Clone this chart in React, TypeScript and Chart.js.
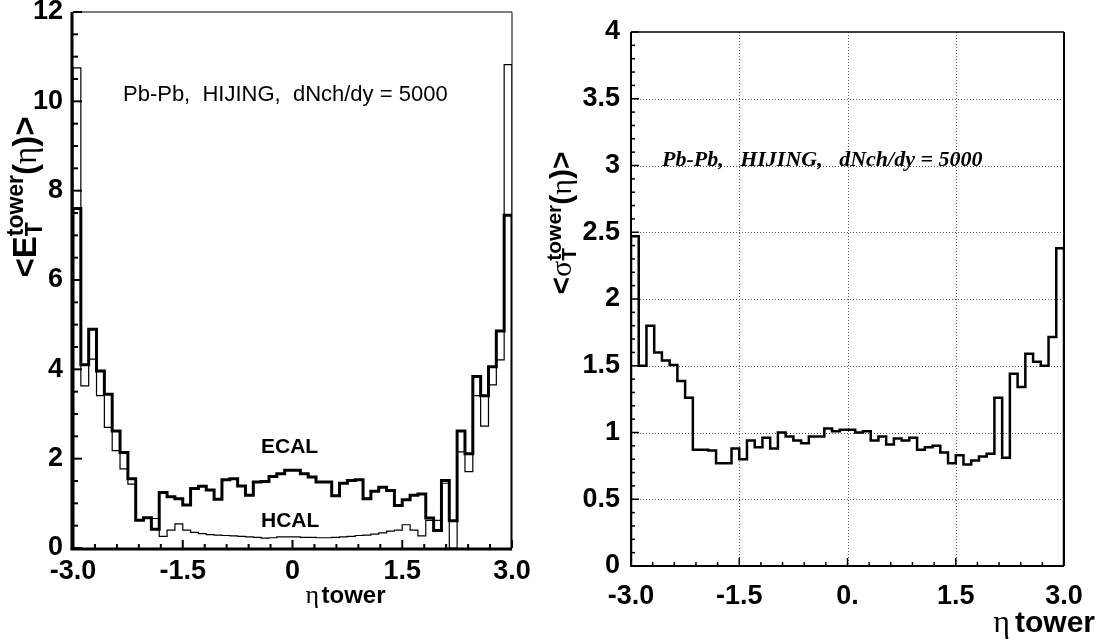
import { useEffect, useRef } from "react";
import { Chart, registerables } from "chart.js";

Chart.register(...registerables);

// ---------- data ----------
const ETA_MIN = -3;
const ETA_MAX = 3;

// <E_T> per eta tower (56 bins from -3 to 3)
const ECAL = [
  7.6, 4.1, 4.9, 3.96, 3.44, 2.62, 2.14, 1.55, 0.62, 0.68,
  0.42, 1.24, 1.15, 1.1, 0.96, 1.33, 1.38, 1.3, 1.09, 1.53,
  1.55, 1.39, 1.18, 1.48, 1.49, 1.6, 1.66, 1.74, 1.74, 1.66,
  1.59, 1.48, 1.48, 1.17, 1.45, 1.51, 1.53, 1.1, 1.27, 1.36,
  1.29, 0.95, 1.08, 1.18, 1.21, 0.67, 0.39, 1.51, 0.61, 2.62,
  2.11, 3.84, 3.41, 4.06, 4.86, 7.45,
];
const HCAL = [
  10.75, 3.63, 4.23, 3.41, 2.7, 2.18, 1.77, 1.43, 0.62, 0.66,
  0.66, 0.26, 0.4, 0.54, 0.4, 0.35, 0.32, 0.3, 0.29, 0.28,
  0.27, 0.26, 0.25, 0.24, 0.22, 0.23, 0.25, 0.25, 0.25, 0.24,
  0.24, 0.23, 0.23, 0.24, 0.25, 0.26, 0.28, 0.29, 0.31, 0.34,
  0.38, 0.4, 0.52, 0.4, 0.27, 0.62, 0.62, 1.45, 0, 2.15,
  1.71, 3.41, 2.73, 3.65, 4.21, 10.82,
];
// <sigma_T> per eta tower
const SIGMA = [
  2.47, 1.5, 1.8, 1.6, 1.54, 1.505, 1.385, 1.26, 0.87, 0.87,
  0.865, 0.77, 0.77, 0.88, 0.8, 0.94, 0.89, 0.96, 0.88, 1.0,
  0.97, 0.94, 0.92, 0.97, 0.97, 1.03, 1.01, 1.02, 1.02, 1.0,
  1.01, 0.94, 0.97, 0.91, 0.955, 0.94, 0.96, 0.87, 0.89, 0.9,
  0.85, 0.77, 0.83, 0.76, 0.79, 0.82, 0.84, 1.26, 0.81, 1.44,
  1.34, 1.59, 1.53, 1.5, 1.715, 2.38,
];

const X_TICKS = [-3, -1.5, 0, 1.5, 3];
const X_LABELS_LEFT = ["-3.0", "-1.5", "0", "1.5", "3.0"];
const X_LABELS_RIGHT = ["-3.0", "-1.5", "0.", "1.5", "3.0"];
const Y_TICKS_LEFT = [0, 2, 4, 6, 8, 10, 12];
const Y_LABELS_LEFT = ["0", "2", "4", "6", "8", "10", "12"];
const Y_TICKS_RIGHT = [0, 0.5, 1, 1.5, 2, 2.5, 3, 3.5, 4];
const Y_LABELS_RIGHT = ["0", "0.5", "1", "1.5", "2", "2.5", "3", "3.5", "4"];

const ANNOT_TEXT = "Pb-Pb,  HIJING,  dNch/dy = 5000";
const ANNOT_TEXT_RIGHT = "Pb-Pb,   HIJING,   dNch/dy = 5000";

// ---------- helpers ----------
const SANS = "'Liberation Sans', Arial, Helvetica, sans-serif";
const SERIF = "'Liberation Serif', 'Times New Roman', serif";

function histPoints(values: number[]) {
  const w = (ETA_MAX - ETA_MIN) / values.length;
  const pts: { x: number; y: number }[] = [{ x: ETA_MIN, y: 0 }];
  values.forEach((v, i) => pts.push({ x: ETA_MIN + i * w, y: v }));
  pts.push({ x: ETA_MAX, y: values[values.length - 1] });
  pts.push({ x: ETA_MAX, y: 0 });
  return pts;
}

type Part = { t: string; f: string; s: number } | { stack: { t: string; f: string; s: number }[] };

function drawRotated(ctx: CanvasRenderingContext2D, x: number, yc: number, parts: Part[]) {
  ctx.save();
  ctx.fillStyle = "#000";
  ctx.textBaseline = "alphabetic";
  ctx.textAlign = "left";
  const widths = parts.map((p) => {
    if ("stack" in p) {
      return Math.max(
        ...p.stack.map((q) => {
          ctx.font = q.f;
          return ctx.measureText(q.t).width;
        })
      );
    }
    ctx.font = p.f;
    return ctx.measureText(p.t).width;
  });
  const total = widths.reduce((a, b) => a + b, 0);
  ctx.translate(x, yc);
  ctx.rotate(-Math.PI / 2);
  let pos = -total / 2;
  parts.forEach((p, i) => {
    if ("stack" in p) {
      p.stack.forEach((q) => {
        ctx.font = q.f;
        ctx.fillText(q.t, pos, q.s);
      });
    } else {
      ctx.font = p.f;
      ctx.fillText(p.t, pos, p.s);
    }
    pos += widths[i];
  });
  ctx.restore();
}

function line(ctx: CanvasRenderingContext2D, x1: number, y1: number, x2: number, y2: number, w: number) {
  ctx.lineWidth = w;
  ctx.beginPath();
  ctx.moveTo(x1, y1);
  ctx.lineTo(x2, y2);
  ctx.stroke();
}

function drawXTicks(chart: any, ctx: CanvasRenderingContext2D, w: number) {
  const { bottom } = chart.chartArea;
  const xs = chart.scales.x;
  for (let k = 0; k <= 20; k++) {
    const v = ETA_MIN + k * 0.3;
    const major = X_TICKS.some((t) => Math.abs(t - v) < 1e-6);
    const px = xs.getPixelForValue(v);
    line(ctx, px, bottom, px, bottom - (major ? 8 : 4), w);
  }
}

// ---------- plugins ----------
const leftDecor = {
  id: "leftDecor",
  afterDatasetsDraw(chart: any) {
    const ctx: CanvasRenderingContext2D = chart.ctx;
    const { left, right, top, bottom } = chart.chartArea;
    const xs = chart.scales.x;
    const ys = chart.scales.y;
    ctx.save();
    ctx.strokeStyle = "#000";
    // frame
    line(ctx, left, top, right, top, 1);
    line(ctx, right, top, right, bottom, 1);
    line(ctx, left - 1, top, left - 1, bottom + 1, 3);
    line(ctx, left - 2.5, bottom + 1, right, bottom + 1, 3);
    // y ticks
    for (let k = 0; k <= 24; k++) {
      const v = k * 0.5;
      const major = Y_TICKS_LEFT.includes(v);
      const py = ys.getPixelForValue(v);
      line(ctx, left, py, left + (major ? 9 : 5), py, 2);
    }
    drawXTicks(chart, ctx, 2);
    // annotations
    ctx.fillStyle = "#000";
    ctx.textBaseline = "alphabetic";
    ctx.textAlign = "left";
    ctx.font = `22px ${SANS}`;
    ctx.fillText(ANNOT_TEXT, xs.getPixelForValue(-2.317), ys.getPixelForValue(10.0));
    ctx.font = `bold 21px ${SANS}`;
    ctx.fillText("ECAL", xs.getPixelForValue(-0.431), ys.getPixelForValue(2.12));
    ctx.fillText("HCAL", xs.getPixelForValue(-0.431), ys.getPixelForValue(0.48));
    // x title
    const cx = (left + right) / 2;
    ctx.font = `26px ${SERIF}`;
    ctx.fillText("η", cx + 13, bottom + 55);
    ctx.font = `bold 24px ${SANS}`;
    ctx.fillText("tower", cx + 29, bottom + 55);
    // y title
    drawRotated(ctx, left - 37, 197, [
      { t: "<", f: `bold 33px ${SANS}`, s: 0 },
      { t: "E", f: `bold 33px ${SANS}`, s: 0 },
      {
        stack: [
          { t: "T", f: `bold 23px ${SANS}`, s: 6 },
          { t: "tower", f: `bold 23px ${SANS}`, s: -13 },
        ],
      },
      { t: "(", f: `bold 33px ${SANS}`, s: 0 },
      { t: "η", f: `33px ${SERIF}`, s: 0 },
      { t: ")", f: `bold 33px ${SANS}`, s: 0 },
      { t: ">", f: `bold 33px ${SANS}`, s: 0 },
    ]);
    ctx.restore();
  },
};

const rightDecor = {
  id: "rightDecor",
  beforeDatasetsDraw(chart: any) {
    const ctx: CanvasRenderingContext2D = chart.ctx;
    const { left, right, top, bottom } = chart.chartArea;
    const xs = chart.scales.x;
    const ys = chart.scales.y;
    ctx.save();
    ctx.strokeStyle = "#555";
    ctx.setLineDash([1, 2]);
    Y_TICKS_RIGHT.filter((v) => v > 0 && v < 4).forEach((v) => {
      const py = Math.round(ys.getPixelForValue(v)) + 0.5;
      line(ctx, left, py, right, py, 1);
    });
    X_TICKS.filter((v) => v > ETA_MIN && v < ETA_MAX).forEach((v) => {
      const px = Math.round(xs.getPixelForValue(v)) + 0.5;
      line(ctx, px, top, px, bottom, 1);
    });
    ctx.restore();
  },
  afterDatasetsDraw(chart: any) {
    const ctx: CanvasRenderingContext2D = chart.ctx;
    const { left, right, top, bottom } = chart.chartArea;
    const xs = chart.scales.x;
    const ys = chart.scales.y;
    ctx.save();
    ctx.strokeStyle = "#000";
    line(ctx, left, top, right, top, 1.5);
    line(ctx, right, top, right, bottom, 2);
    line(ctx, left, top, left, bottom + 1, 2);
    line(ctx, left - 1, bottom, right, bottom, 2);
    for (let k = 0; k <= 40; k++) {
      const v = k * 0.1;
      const major = Y_TICKS_RIGHT.some((t) => Math.abs(t - v) < 1e-6);
      const py = ys.getPixelForValue(v);
      line(ctx, left, py, left + (major ? 8 : 4), py, 1.5);
    }
    drawXTicks(chart, ctx, 1.5);
    ctx.fillStyle = "#000";
    ctx.textBaseline = "alphabetic";
    ctx.textAlign = "left";
    ctx.font = `italic bold 22px ${SERIF}`;
    ctx.fillText(ANNOT_TEXT_RIGHT, xs.getPixelForValue(-2.571), ys.getPixelForValue(3.0));
    // x title (right-aligned)
    ctx.textAlign = "right";
    ctx.font = `bold 30px ${SANS}`;
    ctx.fillText("tower", right + 31, bottom + 66);
    const tw = ctx.measureText("tower").width;
    ctx.font = `32px ${SERIF}`;
    ctx.fillText("η", right + 31 - tw - 5, bottom + 66);
    ctx.textAlign = "left";
    drawRotated(ctx, left - 60, 223, [
      { t: "<", f: `bold 30px ${SANS}`, s: 0 },
      { t: "σ", f: `30px ${SERIF}`, s: 0 },
      {
        stack: [
          { t: "T", f: `bold 21px ${SANS}`, s: 5 },
          { t: "tower", f: `bold 21px ${SANS}`, s: -10 },
        ],
      },
      { t: "(", f: `bold 30px ${SANS}`, s: 0 },
      { t: "η", f: `30px ${SERIF}`, s: 0 },
      { t: ")", f: `bold 30px ${SANS}`, s: 0 },
      { t: ">", f: `bold 30px ${SANS}`, s: 0 },
    ]);
    ctx.restore();
  },
};

// ---------- configs ----------
function scales(opts: {
  yMax: number;
  yTicks: number[];
  yLabels: string[];
  xLabels: string[];
  yWidth: number;
  xHeight: number;
  xPad: number;
  yPad: number;
}) {
  const tickFont = { family: SANS, size: 27, weight: "bold" as const };
  return {
    x: {
      type: "linear" as const,
      min: ETA_MIN,
      max: ETA_MAX,
      grid: { display: false, drawTicks: false },
      border: { display: false },
      afterBuildTicks: (s: any) => {
        s.ticks = X_TICKS.map((v) => ({ value: v }));
      },
      ticks: {
        autoSkip: false,
        maxRotation: 0,
        color: "#000",
        font: tickFont,
        padding: opts.xPad,
        callback: (_v: any, i: number) => opts.xLabels[i],
      },
      afterFit: (s: any) => {
        s.height = opts.xHeight;
        s.paddingLeft = 0;
        s.paddingRight = 0;
      },
    },
    y: {
      type: "linear" as const,
      min: 0,
      max: opts.yMax,
      grid: { display: false, drawTicks: false },
      border: { display: false },
      afterBuildTicks: (s: any) => {
        s.ticks = opts.yTicks.map((v) => ({ value: v }));
      },
      ticks: {
        autoSkip: false,
        color: "#000",
        font: tickFont,
        padding: opts.yPad,
        callback: (_v: any, i: number) => opts.yLabels[i],
      },
      afterFit: (s: any) => {
        s.width = opts.yWidth;
        s.paddingTop = 0;
        s.paddingBottom = 0;
      },
    },
  };
}

const lineDs = (label: string, values: number[], width: number) => ({
  label,
  data: histPoints(values),
  stepped: true as const,
  borderColor: "#000",
  borderWidth: width,
  borderJoinStyle: "miter" as const,
  borderCapStyle: "butt" as const,
  pointRadius: 0,
  fill: false,
  tension: 0,
});

function leftConfig(): any {
  return {
    type: "line",
    data: {
      datasets: [lineDs("ECAL", ECAL, 3), lineDs("HCAL", HCAL, 1.2)],
    },
    options: {
      animation: false,
      responsive: false,
      devicePixelRatio: 1,
      parsing: false,
      layout: { autoPadding: false, padding: { left: 0, top: 12, right: 28, bottom: 0 } },
      plugins: { legend: { display: false }, tooltip: { enabled: false }, title: { display: false } },
      events: [],
      scales: scales({
        yMax: 12,
        yTicks: Y_TICKS_LEFT,
        yLabels: Y_LABELS_LEFT,
        xLabels: X_LABELS_LEFT,
        yWidth: 73,
        xHeight: 95,
        xPad: 7,
        yPad: 10,
      }),
    },
    plugins: [leftDecor],
  };
}

function rightConfig(): any {
  return {
    type: "line",
    data: {
      datasets: [lineDs("sigma", SIGMA, 2.5)],
    },
    options: {
      animation: false,
      responsive: false,
      devicePixelRatio: 1,
      parsing: false,
      layout: { autoPadding: false, padding: { left: 0, top: 32, right: 36, bottom: 0 } },
      plugins: { legend: { display: false }, tooltip: { enabled: false }, title: { display: false } },
      events: [],
      scales: scales({
        yMax: 4,
        yTicks: Y_TICKS_RIGHT,
        yLabels: Y_LABELS_RIGHT,
        xLabels: X_LABELS_RIGHT,
        yWidth: 91,
        xHeight: 77,
        xPad: 14,
        yPad: 11,
      }),
    },
    plugins: [rightDecor],
  };
}

export default function App() {
  const leftRef = useRef<HTMLCanvasElement>(null);
  const rightRef = useRef<HTMLCanvasElement>(null);
  useEffect(() => {
    document.body.style.margin = "0";
    const c1 = new Chart(leftRef.current as HTMLCanvasElement, leftConfig());
    const c2 = new Chart(rightRef.current as HTMLCanvasElement, rightConfig());
    return () => {
      c1.destroy();
      c2.destroy();
    };
  }, []);
  return (
    <div style={{ position: "relative", width: 1100, height: 643, background: "#fff", overflow: "hidden" }}>
      <canvas ref={leftRef} width={540} height={643} style={{ position: "absolute", left: 0, top: 0 }} />
      <canvas ref={rightRef} width={560} height={643} style={{ position: "absolute", left: 540, top: 0 }} />
    </div>
  );
}
